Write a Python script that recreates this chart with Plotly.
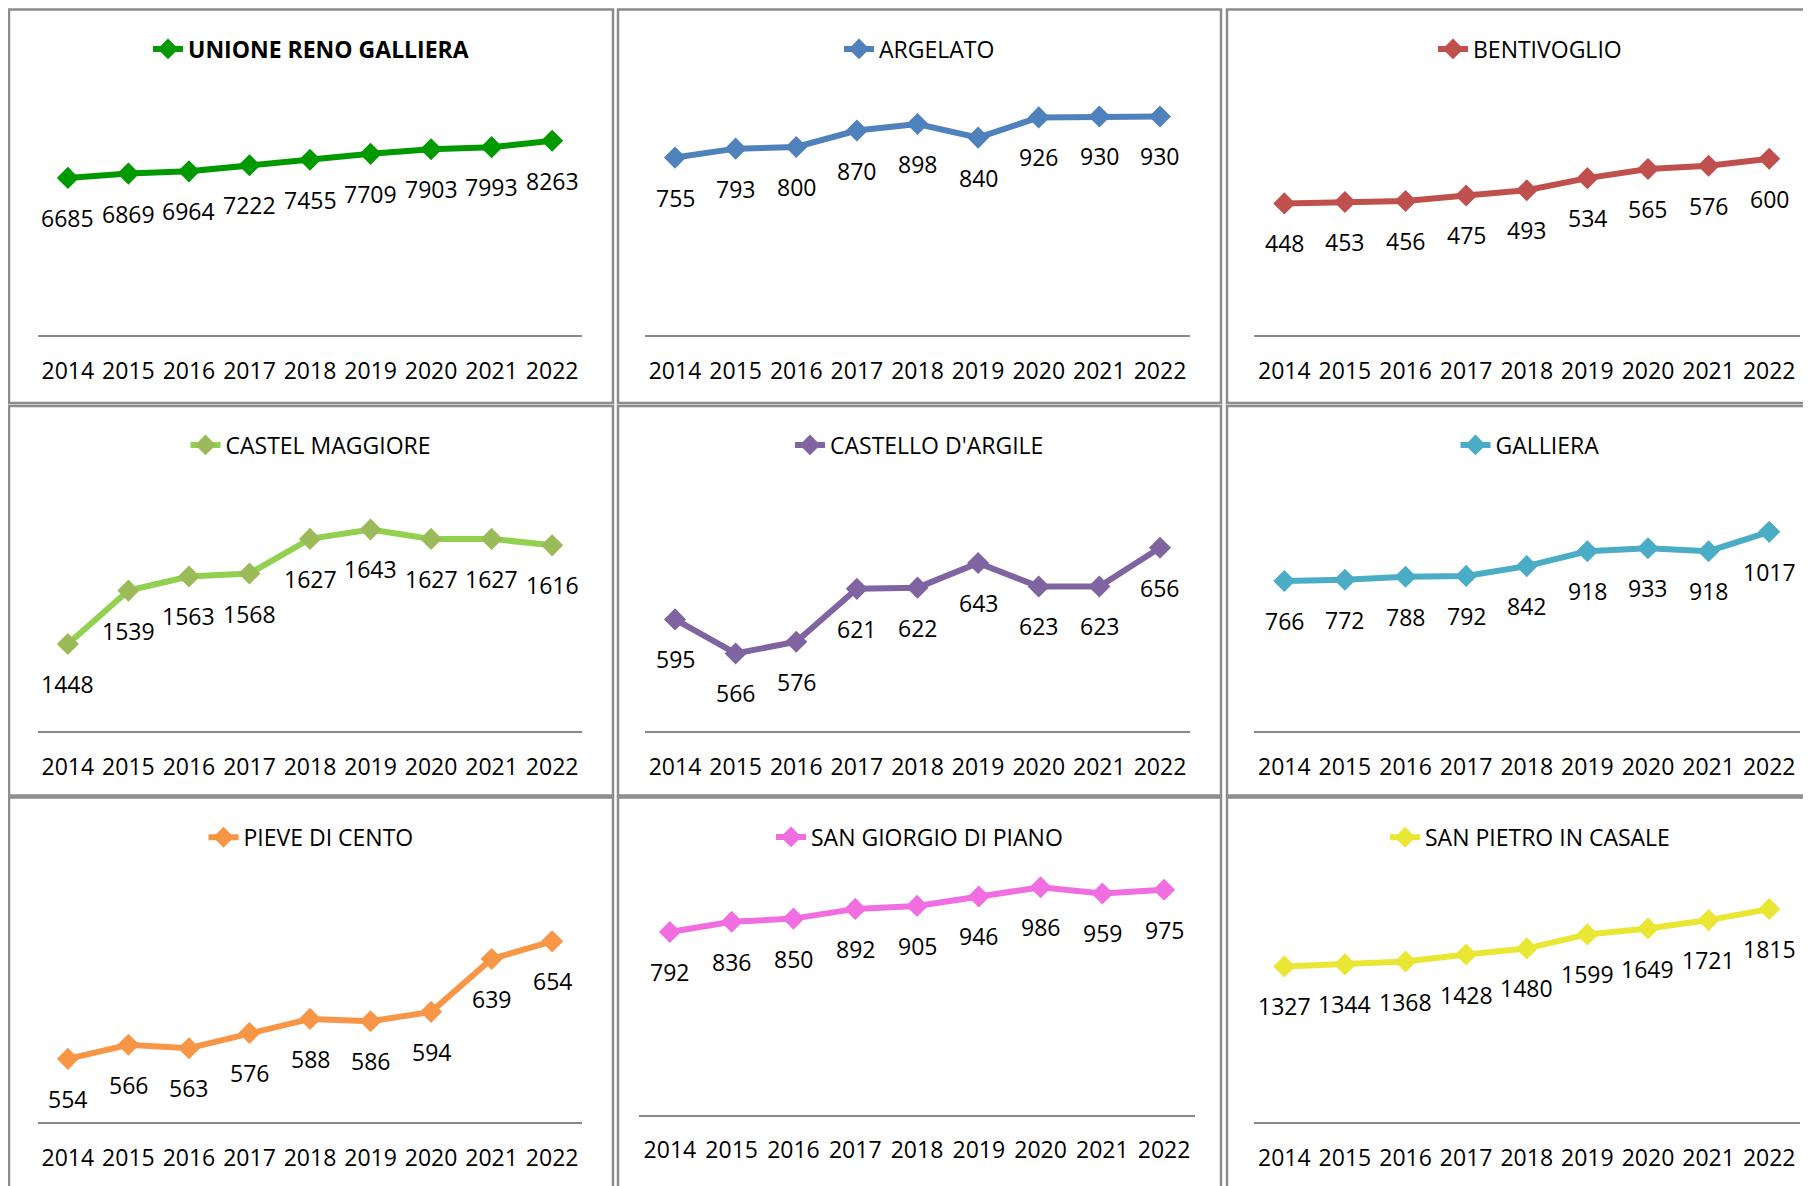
import plotly.graph_objects as go

# ---------------- data ----------------
years = ["2014", "2015", "2016", "2017", "2018", "2019", "2020", "2021", "2022"]

names = ["<b>UNIONE RENO GALLIERA</b>", "ARGELATO", "BENTIVOGLIO",
         "CASTEL MAGGIORE", "CASTELLO D'ARGILE", "GALLIERA",
         "PIEVE DI CENTO", "SAN GIORGIO DI PIANO", "SAN PIETRO IN CASALE"]

unione = [6685, 6869, 6964, 7222, 7455, 7709, 7903, 7993, 8263]
argelato = [755, 793, 800, 870, 898, 840, 926, 930, 930]
bentivoglio = [448, 453, 456, 475, 493, 534, 565, 576, 600]
castel_maggiore = [1448, 1539, 1563, 1568, 1627, 1643, 1627, 1627, 1616]
castello_argile = [595, 566, 576, 621, 622, 643, 623, 623, 656]
galliera = [766, 772, 788, 792, 842, 918, 933, 918, 1017]
pieve_di_cento = [554, 566, 563, 576, 588, 586, 594, 639, 654]
san_giorgio = [792, 836, 850, 892, 905, 946, 986, 959, 975]
san_pietro = [1327, 1344, 1368, 1428, 1480, 1599, 1649, 1721, 1815]

series = [unione, argelato, bentivoglio, castel_maggiore, castello_argile,
          galliera, pieve_di_cento, san_giorgio, san_pietro]

line_colors = ["#009900", "#4F81BD", "#C0504D", "#92D050", "#8064A2",
               "#4BACC6", "#F79646", "#F06EE0", "#EAE634"]
marker_colors = ["#009900", "#4F81BD", "#C0504D", "#9BBB59", "#8064A2",
                 "#4BACC6", "#F79646", "#F06EE0", "#EAE634"]

y_ranges = [[0, 10000], [0, 1000], [0, 800],
            [1300, 1700], [500, 700], [0, 1200],
            [500, 700], [0, 1000], [0, 2000]]

# ---------------- geometry (pixels of the page) ----------------
PAGE_W, PAGE_H = 1811, 1186
OFF = 8  # default body margin of the html page
W, H = PAGE_W - OFF, PAGE_H - OFF
FONT = "Open Sans, Noto Sans, sans-serif"
FS = 23


def px(x):
    return (x - OFF) / W


def py(y):
    return 1 - (y - OFF) / H


# plot areas: x0, x1, axis y, top y
areas = [
    (37.6, 582.4, 335, 100), (644.7, 1190.3, 335, 100), (1254, 1799.5, 335, 100),
    (37.6, 582.4, 731, 496), (644.7, 1190.3, 731, 496), (1254, 1799.5, 731, 496),
    (37.6, 582.4, 1122.3, 887.3), (639, 1195, 1114.6, 884), (1254, 1799.5, 1122.3, 887.3),
]
legend_pos = [(311, 49), (919.5, 49), (1530, 49),
              (311, 445), (919.5, 445), (1530, 445),
              (311, 837.3), (919.5, 837), (1530, 837.3)]

col_edges = [(9, 613), (618, 1221), (1227, 1840)]
row_edges = [(9.5, 403), (406, 795.5), (797.5, 1210)]

fig = go.Figure()
layout = dict(
    width=W, height=H,
    margin=dict(l=0, r=0, t=0, b=0),
    paper_bgcolor="white", plot_bgcolor="white",
    font=dict(family=FONT, size=FS, color="black"),
    showlegend=True,
)
annotations = []
shapes = []

for i in range(9):
    sfx = "" if i == 0 else str(i + 1)
    x0, x1, ya, yt = areas[i]
    leg = "legend" if i == 0 else "legend" + str(i + 1)
    fig.add_trace(go.Scatter(
        x=years, y=series[i], name=names[i],
        mode="lines+markers",
        line=dict(color=line_colors[i], width=6),
        marker=dict(symbol="diamond", size=17, color=marker_colors[i]),
        xaxis="x" + sfx, yaxis="y" + sfx,
        legend=leg, cliponaxis=False, hoverinfo="x+y",
    ))
    layout["xaxis" + sfx] = dict(
        domain=[px(x0), px(x1)], anchor="y" + sfx, type="category",
        range=[-0.5, 8.5], showline=True, linecolor="#8A8A8A", linewidth=2,
        showgrid=False, zeroline=False, ticks="outside", ticklen=14,
        tickcolor="rgba(0,0,0,0)", tickfont=dict(family=FONT, size=FS, color="black"),
        fixedrange=True,
    )
    layout["yaxis" + sfx] = dict(
        domain=[py(ya), py(yt)], anchor="x" + sfx, range=y_ranges[i],
        visible=False, showgrid=False, zeroline=False, fixedrange=True,
    )
    lx, ly = legend_pos[i]
    layout[leg] = dict(
        x=px(lx), y=py(ly), xanchor="center", yanchor="middle",
        bgcolor="rgba(0,0,0,0)", borderwidth=0,
        font=dict(family=FONT, size=FS, color="black"),
        orientation="h", itemclick=False, itemdoubleclick=False,
    )
    for j, v in enumerate(series[i]):
        annotations.append(dict(
            x=j, y=v, xref="x" + sfx, yref="y" + sfx, text=str(v),
            showarrow=False, yshift=-40,
            font=dict(family=FONT, size=FS, color="black"),
        ))

for (cx0, cx1) in col_edges:
    for (ry0, ry1) in row_edges:
        shapes.append(dict(
            type="rect", xref="paper", yref="paper",
            x0=px(cx0), x1=px(cx1), y0=py(ry1), y1=py(ry0),
            line=dict(color="#8C8C8C", width=2.5), fillcolor="rgba(0,0,0,0)",
            layer="below",
        ))

layout["annotations"] = annotations
layout["shapes"] = shapes
fig.update_layout(**layout)
fig.write_html("out.html")
